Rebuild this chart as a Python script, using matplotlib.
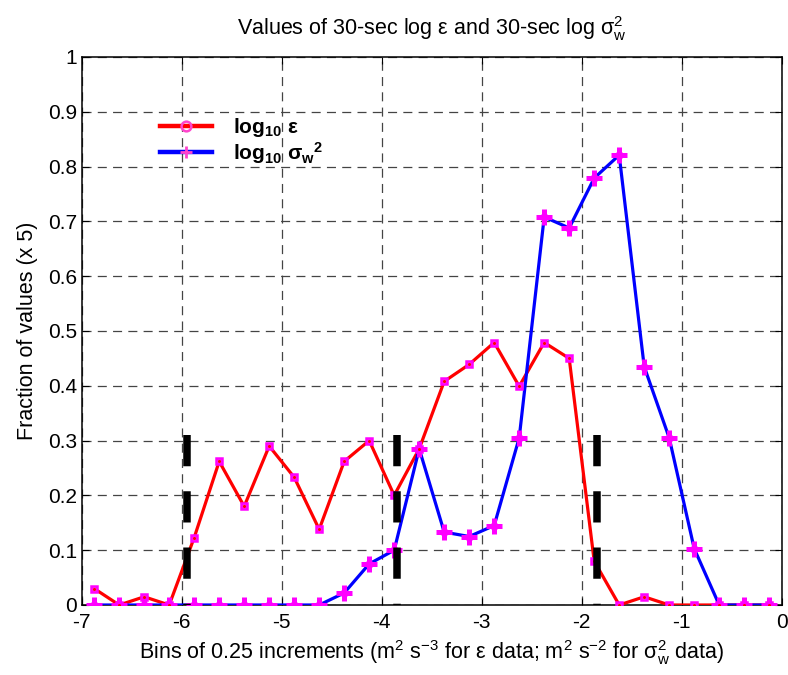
import matplotlib
matplotlib.use("Agg")
import matplotlib.pyplot as plt

plt.rcParams['font.family'] = ['Liberation Sans', 'DejaVu Sans']
plt.rcParams['mathtext.fontset'] = 'custom'
plt.rcParams['mathtext.rm'] = 'Liberation Sans'
plt.rcParams['mathtext.it'] = 'Liberation Sans:italic'
plt.rcParams['mathtext.bf'] = 'Liberation Sans:bold'
plt.rcParams['lines.scale_dashes'] = False
plt.rcParams['axes.unicode_minus'] = False

# bin centres (0.25 increments)
bins = [-6.875, -6.625, -6.375, -6.125, -5.875, -5.625, -5.375, -5.125, -4.875, -4.625,
        -4.375, -4.125, -3.875, -3.625, -3.375, -3.125, -2.875, -2.625, -2.375, -2.125,
        -1.875, -1.625, -1.375, -1.125, -0.875, -0.625, -0.375, -0.125]
log_eps = [0.030, 0.000, 0.015, 0.000, 0.123, 0.262, 0.180, 0.290, 0.233, 0.138,
           0.262, 0.300, 0.200, 0.285, 0.408, 0.439, 0.479, 0.399, 0.479, 0.450,
           0.080, 0.000, 0.015, 0.000, 0.000, 0.000, 0.000, 0.000]
log_sig = [0.000, 0.000, 0.000, 0.000, 0.000, 0.000, 0.000, 0.000, 0.000, 0.000,
           0.022, 0.075, 0.100, 0.285, 0.133, 0.125, 0.145, 0.305, 0.708, 0.688,
           0.779, 0.821, 0.435, 0.305, 0.103, 0.000, 0.000, 0.000]
marker_x = [-5.95, -3.85, -1.85]
marker_top = 0.31

xticks = [-7, -6, -5, -4, -3, -2, -1, 0]
yticks = [0, 0.1, 0.2, 0.3, 0.4, 0.5, 0.6, 0.7, 0.8, 0.9, 1]
ytick_labels = ['0', '0.1', '0.2', '0.3', '0.4', '0.5', '0.6', '0.7', '0.8', '0.9', '1']

W, H = 788, 675
fig = plt.figure(figsize=(W / 100, H / 100), dpi=100)
ax = fig.add_axes([81.7 / W, 1 - 605 / H, 700 / W, 548 / H])

mag = '#ff00ff'
ax.plot(bins, log_eps, color='red', lw=2.3, zorder=4)
ax.plot(bins, log_eps, ls='none', marker='s', ms=5.0, mec=mag, mfc='#ff44dd',
        mew=1.8, zorder=5)
ax.plot(bins, log_eps, ls='none', marker='o', ms=2.2, mec='red', mfc='red',
        mew=0, zorder=6)
ax.plot(bins, log_sig, color='blue', lw=2.3, zorder=4)
ax.plot(bins, log_sig, ls='none', marker='+', ms=11, mec=mag, mew=3.6, zorder=5)
ax.plot(bins, log_sig, ls='none', marker='o', ms=6, mec=mag, mfc=mag, mew=0, zorder=5)

# legend handles
h1, = ax.plot([], [], color='red', lw=3.2, marker='o', ms=7, mec='#ff44cc', mfc='none',
              mew=1.8, label=r'log$_\mathbf{10}$ ε')
h2, = ax.plot([], [], color='blue', lw=3.2, marker='+', ms=8, mec='#ff44cc', mew=2,
              label=r'log$_\mathbf{10}$ σ$_\mathbf{w}$$^\mathbf{2}$')

for mx in marker_x:
    ax.plot([mx, mx], [marker_top, 0], color='black', lw=5.4,
            dashes=(22.5, 18.0), solid_capstyle='butt', dash_capstyle='butt',
            zorder=7)

ax.set_xlim(-7, 0)
ax.set_ylim(0, 1)
ax.set_xticks(xticks)
ax.set_yticks(yticks)
ax.set_yticklabels(ytick_labels)
ax.tick_params(direction='in', labelsize=15, length=5, top=True, right=True, width=0.8)
ax.tick_params(axis='x', pad=6)
ax.tick_params(axis='y', pad=3.5)
ax.grid(True, color='#444444', linestyle=(0, (6.5, 4.5)), lw=0.9)
for s in ax.spines.values():
    s.set_linewidth(1.1)

ax.set_title(r'Values of 30-sec log $\mathrm{ε}$ and 30-sec log $\mathrm{σ}_\mathrm{w}^\mathrm{2}$',
             fontsize=15.5, pad=16)
ax.set_xlabel(r'Bins of 0.25 increments (m$^\mathrm{2}$ s$^\mathrm{-3}$ for $\mathrm{ε}$ data; '
              r'm$^\mathrm{2}$ s$^\mathrm{-2}$ for $\mathrm{σ}_\mathrm{w}^\mathrm{2}$ data)',
              fontsize=15.5, labelpad=4)
ax.set_ylabel('Fraction of values (x 5)', fontsize=15.5, labelpad=7)

leg = ax.legend(handles=[h1, h2], loc='upper left',
                bbox_to_anchor=((160 - 81.7) / 700, (605 - 116) / 548),
                frameon=False, prop={'weight': 'bold', 'size': 15},
                borderpad=0, borderaxespad=0,
                handlelength=2.5, handletextpad=1.0, labelspacing=0.05)

fig.savefig('out.png', dpi=100)
